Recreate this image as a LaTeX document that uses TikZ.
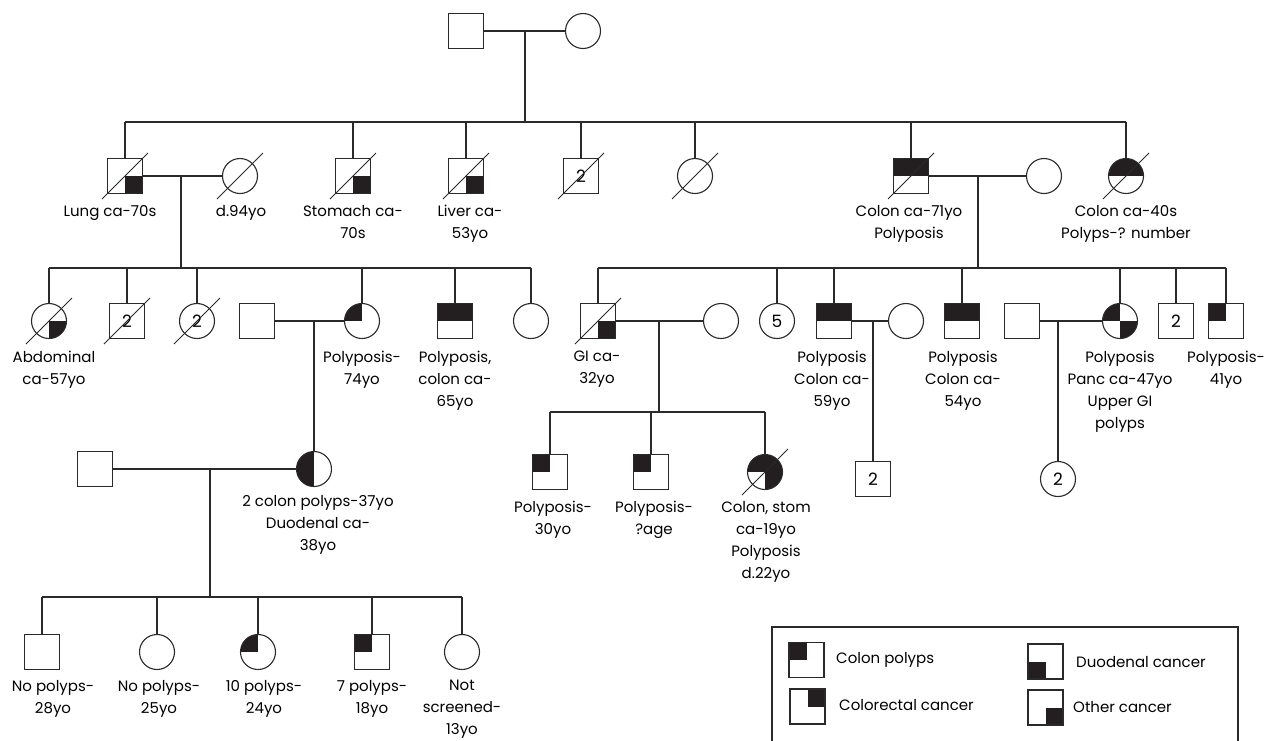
\documentclass[tikz,border=0pt]{standalone}
\usepackage{fontspec}
\setmainfont{Poppins}
\usetikzlibrary{calc}
\definecolor{fillc}{HTML}{231F20}
\definecolor{lc}{HTML}{2A2A2A}
\tikzset{
  lw/.style={draw=lc, line width=1.1pt},
  male/.style={lw, rectangle, minimum size=35pt, inner sep=0pt, fill=white, font=\fontsize{17}{22}\selectfont},
  female/.style={lw, circle, minimum size=35pt, inner sep=0pt, fill=white, font=\fontsize{17}{22}\selectfont},
  q/.style={path picture={\foreach \c in {#1}{\fill[fillc] (path picture bounding box.center) rectangle (path picture bounding box.\c);}}},
  lab/.style={align=center, anchor=north, inner sep=0pt, font=\fontsize{15}{22}\selectfont},
  leg/.style={anchor=west, inner sep=0pt, font=\fontsize{15}{22}\selectfont},
}
\begin{document}
\begin{tikzpicture}[x=1pt, y=-1pt]
\useasboundingbox (0,0) rectangle (1277,740);
% ---------- Generation 1
\node[male] (g1m) at (466,31) {};
\node[female] (g1f) at (583,31) {};
\coordinate (j1) at (525,31);
\coordinate (sib1) at (525,122);
% ---------- Generation 2
\node[male, q={south east}] (lung) at (125,176) {};
\node[female] (d94) at (240,176) {};
\node[male, q={south east}] (stom) at (353,176) {};
\node[male, q={south east}] (liver) at (466,176) {};
\node[male] (m2) at (581,176) {2};
\node[female] (f2) at (695,176) {};
\node[male, q={north west,north east}] (col71) at (911,176) {};
\node[female] (w71) at (1044,176) {};
\node[female, q={north west,north east}] (col40) at (1126,176) {};
\coordinate (j2a) at (181,176);
\coordinate (j2b) at (978,176);
\coordinate (sibL) at (181,268);
\coordinate (sibR) at (978,268);
% ---------- Generation 3
\node[female, q={south east}] (abd) at (49,321) {};
\node[male] (m2b) at (127,321) {2};
\node[female] (f2b) at (197,321) {2};
\node[male] (sp1) at (257,321) {};
\node[female, q={north west}] (p74) at (362,321) {};
\node[male, q={north west,north east}] (p65) at (455,321) {};
\node[female] (f3) at (531,321) {};
\node[male, q={south east}] (gi) at (598,321) {};
\node[female] (gw) at (721,321) {};
\node[female] (f5) at (777,321) {5};
\node[male, q={north west,north east}] (p59) at (834,321) {};
\node[female] (w59) at (906,321) {};
\node[male, q={north west,north east}] (p54) at (962,321) {};
\node[male] (sp2) at (1022,321) {};
\node[female, q={north west,south east}] (panc) at (1120,321) {};
\node[male] (m2c) at (1176,321) {2};
\node[male, q={north west}] (p41) at (1226,321) {};
\coordinate (j3a) at (314,321);
\coordinate (j3b) at (659,321);
\coordinate (j3c) at (873,321);
\coordinate (j3d) at (1058,321);
\coordinate (sibG) at (659,412);
% ---------- Generation 4
\node[male] (sp3) at (95,469) {};
\node[female, q={north west,south west}] (dcp) at (314,469) {};
\node[male, q={north west}] (k1) at (550,472) {};
\node[male, q={north west}] (k2) at (651,472) {};
\node[female, q={north west,north east,south east}] (cs) at (765,472) {};
\node[male] (s2) at (873,479) {2};
\node[female] (c2) at (1058,479) {2};
\coordinate (j4) at (210,469);
\coordinate (sib5) at (210,597);
% ---------- Generation 5
\node[male] (n1) at (42,652) {};
\node[female] (n2) at (157,652) {};
\node[female, q={north west}] (n3) at (258,652) {};
\node[male, q={north west}] (n4) at (372,652) {};
\node[female] (n5) at (462,652) {};
% ---------- connectors
\draw[lw] (g1m.east) -- (g1f.west);
\draw[lw] (j1) -- (sib1);
\draw[lw] (lung.north |- sib1) -- (col40.north |- sib1);
\foreach \n in {lung,stom,liver,m2,f2,col71,col40} \draw[lw] (\n.north) -- (\n.north |- sib1);
\draw[lw] (lung.east) -- (d94.west);
\draw[lw] (j2a) -- (sibL);
\draw[lw] (col71.east) -- (w71.west);
\draw[lw] (j2b) -- (sibR);
\draw[lw] (abd.north |- sibL) -- (f3.north |- sibL);
\foreach \n in {abd,m2b,f2b,p74,p65,f3} \draw[lw] (\n.north) -- (\n.north |- sibL);
\draw[lw] (gi.north |- sibR) -- (p41.north |- sibR);
\foreach \n in {gi,f5,p59,p54,panc,m2c,p41} \draw[lw] (\n.north) -- (\n.north |- sibR);
\draw[lw] (sp1.east) -- (p74.west);
\draw[lw] (j3a) -- (dcp.north);
\draw[lw] (gi.east) -- (gw.west);
\draw[lw] (j3b) -- (sibG);
\draw[lw] (k1.north |- sibG) -- (cs.north |- sibG);
\foreach \n in {k1,k2,cs} \draw[lw] (\n.north) -- (\n.north |- sibG);
\draw[lw] (p59.east) -- (w59.west);
\draw[lw] (j3c) -- (s2.north);
\draw[lw] (sp2.east) -- (panc.west);
\draw[lw] (j3d) -- (c2.north);
\draw[lw] (sp3.east) -- (dcp.west);
\draw[lw] (j4) -- (sib5);
\draw[lw] (n1.north |- sib5) -- (n5.north |- sib5);
\foreach \n in {n1,n2,n3,n4,n5} \draw[lw] (\n.north) -- (\n.north |- sib5);
% deceased marks
\foreach \n in {lung,d94,stom,liver,m2,f2,col71,col40,abd,m2b,f2b,gi,cs}
  \draw[lc, line width=1pt] ($(\n.center)+(-23,23)$) -- ($(\n.center)+(23,-23)$);
% ---------- labels
\node[lab] (t1) at (110,205) {Lung ca-70s};
\node[lab] (t2) at (241,205) {d.94yo};
\node[lab] (t3) at (353,205) {Stomach ca-\\70s};
\node[lab] (t4) at (470,205) {Liver ca-\\53yo};
\node[lab] (t5) at (909,205) {Colon ca-71yo\\Polyposis};
\node[lab] (t6) at (1126,205) {Colon ca-40s\\Polyps-? number};
\node[lab] (t7) at (54,351) {Abdominal\\ca-57yo};
\node[lab] (t8) at (362,351) {Polyposis-\\74yo};
\node[lab] (t9) at (455,351) {Polyposis,\\colon ca-\\65yo};
\node[lab] (t10) at (597,351) {GI ca-\\32yo};
\node[lab] (t11) at (832,351) {Polyposis\\Colon ca-\\59yo};
\node[lab] (t12) at (963,351) {Polyposis\\Colon ca-\\54yo};
\node[lab] (t13) at (1120,351) {Polyposis\\Panc ca-47yo\\Upper GI\\polyps};
\node[lab] (t14) at (1226,351) {Polyposis-\\41yo};
\node[lab] (t15) at (553,501) {Polyposis-\\30yo};
\node[lab] (t16) at (654,501) {Polyposis-\\?age};
\node[lab] (t17) at (766,501) {Colon, stom\\ca-19yo\\Polyposis\\d.22yo};
\node[lab] (t18) at (318,495) {2 colon polyps-37yo\\Duodenal ca-\\38yo};
\node[lab] (t19) at (53,680) {No polyps-\\28yo};
\node[lab] (t20) at (159,680) {No polyps-\\25yo};
\node[lab] (t21) at (264,680) {10 polyps-\\24yo};
\node[lab] (t22) at (372,680) {7 polyps-\\18yo};
\node[lab] (t23) at (462,680) {Not\\screened-\\13yo};
% ---------- legend
\draw[lw] (772,741) |- (1238,627) -- (1238,741);
\node[male, q={north west}] (lg1) at (806.5,660) {};
\node[male, q={north east}] (lg2) at (807.5,706.5) {};
\node[male, q={south west}] (lg3) at (1045.5,661.5) {};
\node[male, q={south east}] (lg4) at (1045.5,707.5) {};
\node[leg] (lt1) at (836,660) {Colon polyps};
\node[leg] (lt2) at (839,705) {Colorectal cancer};
\node[leg] (lt3) at (1076,662) {Duodenal cancer};
\node[leg] (lt4) at (1073,707) {Other cancer};
\end{tikzpicture}
\end{document}
